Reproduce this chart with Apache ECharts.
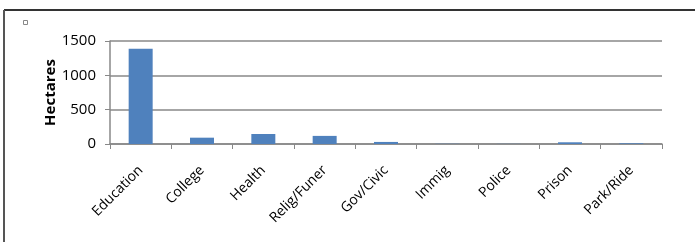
<!DOCTYPE html>
<html>
<head>
<meta charset="utf-8">
<script src="https://cdn.jsdelivr.net/npm/echarts@6/dist/echarts.min.js"></script>
<style>
  html, body { margin: 0; padding: 0; background: #fff; }
  #chart { width: 695px; height: 242px; }
</style>
</head>
<body>
<div id="chart"></div>
<script>
// Land use categories and area in hectares
const categories = ['Education', 'College', 'Health', 'Relig/Funer', 'Gov/Civic', 'Immig', 'Police', 'Prison', 'Park/Ride'];
const hectares = [1388, 92, 146, 118, 30, 3, 2, 25, 10];
const yTicks = [0, 500, 1000, 1500];

const chart = echarts.init(document.getElementById('chart'));
chart.setOption({
    animation: false,
    textStyle: { fontFamily: 'Open Sans' },
    grid: { left: 110, right: 33, top: 41, bottom: 98 },
    graphic: [
        // outer frame (left and top edges visible)
        { type: 'line', shape: { x1: 4, y1: 10, x2: 695, y2: 10 }, style: { stroke: '#333', lineWidth: 2 } },
        { type: 'line', shape: { x1: 4, y1: 10, x2: 4, y2: 242 }, style: { stroke: '#555', lineWidth: 2 } },
        // tiny legend placeholder square
        { type: 'rect', shape: { x: 23.5, y: 20.5, width: 4, height: 4 }, style: { fill: '#fff', stroke: '#888', lineWidth: 1 } }
    ],
    xAxis: {
        type: 'category',
        data: categories,
        axisLine: { lineStyle: { color: '#888', width: 1.5 } },
        axisTick: { show: true, length: 5, lineStyle: { color: '#888' } },
        axisLabel: { rotate: 45, fontSize: 14, color: '#000', margin: 24, interval: 0 }
    },
    yAxis: {
        type: 'value',
        min: 0,
        max: 1500,
        interval: 500,
        name: 'Hectares',
        nameLocation: 'middle',
        nameGap: 52,
        nameMoveOverlap: false,
        nameTextStyle: { fontWeight: 'bold', fontSize: 15, color: '#000' },
        axisLine: { show: true, lineStyle: { color: '#888', width: 1.5 } },
        axisTick: { show: true, length: 5, lineStyle: { color: '#888' } },
        axisLabel: {
            fontSize: 15, color: '#000', margin: 14,
            formatter: v => yTicks.includes(v) ? String(v) : ''
        },
        splitLine: { lineStyle: { color: '#888', width: 1.5 } }
    },
    series: [{
        type: 'bar',
        data: hectares,
        barWidth: 24,
        itemStyle: { color: '#4f81bd' }
    }]
});
</script>
</body>
</html>
